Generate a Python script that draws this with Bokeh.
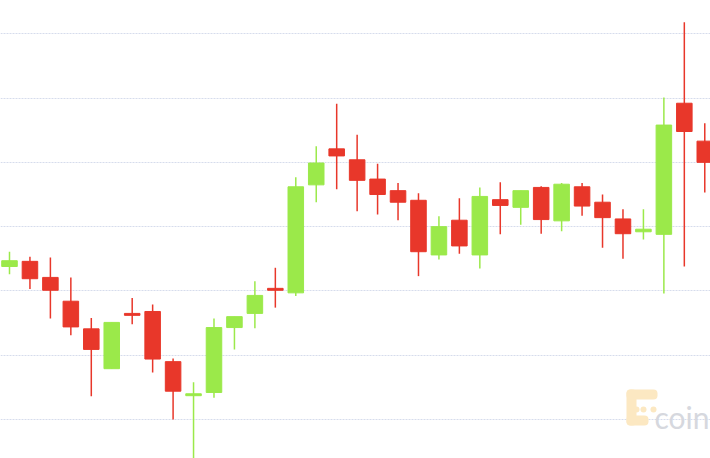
from bokeh.plotting import figure
from bokeh.models import Range1d, FixedTicker, Label, BoxAnnotation
from bokeh.embed import file_html
from bokeh.resources import INLINE

# OHLC values (price units), one per period
opens  = [9238, 9246, 9221, 9184, 9141, 9079, 9165, 9168, 9090, 9037,
          9042, 9143, 9165, 9204, 9197, 9365, 9421, 9404, 9374, 9356,
          9341, 9256, 9310, 9256, 9342, 9330, 9361, 9309, 9362, 9338,
          9312, 9292, 9288, 9492, 9433]
highs  = [9261, 9253, 9252, 9221, 9158, 9151, 9189, 9179, 9095, 9058,
          9157, 9160, 9215, 9236, 9377, 9425, 9491, 9443, 9398, 9368,
          9352, 9316, 9344, 9361, 9369, 9356, 9363, 9368, 9368, 9350,
          9327, 9327, 9501, 9618, 9461]
lows   = [9226, 9203, 9157, 9131, 9036, 9079, 9148, 9073, 9000, 8935,
          9034, 9109, 9142, 9174, 9192, 9338, 9358, 9324, 9319, 9310,
          9223, 9249, 9258, 9235, 9288, 9303, 9289, 9293, 9317, 9267,
          9250, 9280, 9196, 9238, 9353]
closes = [9247, 9219, 9201, 9144, 9109, 9151, 9162, 9094, 9044, 9040,
          9143, 9160, 9193, 9201, 9362, 9399, 9410, 9372, 9350, 9338,
          9261, 9300, 9270, 9347, 9333, 9356, 9311, 9366, 9332, 9314,
          9289, 9296, 9458, 9448, 9400]
grid_ticks = [9000, 9100, 9200, 9300, 9400, 9500, 9600]

UP, DOWN = "#9be94a", "#e8372a"
idx = list(range(len(opens)))
colors = [UP if c >= o else DOWN for o, c in zip(opens, closes)]
tops = [max(o, c) for o, c in zip(opens, closes)]
bottoms = [min(o, c) for o, c in zip(opens, closes)]

p = figure(width=710, height=458, output_backend="svg", toolbar_location=None,
           x_range=Range1d(-0.44, 34.28), y_range=Range1d(8939.3, 9651.8),
           min_border=0, min_border_left=0, min_border_right=0,
           min_border_top=0, min_border_bottom=0)
p.outline_line_color = None
p.background_fill_color = "white"
p.border_fill_color = "white"
p.xaxis.visible = False
p.yaxis.visible = False
p.xgrid.visible = False
p.ygrid.ticker = FixedTicker(ticks=grid_ticks)
p.ygrid.grid_line_color = "#d6dcec"
p.ygrid.grid_line_dash = "2 1"
p.ygrid.grid_line_width = 1

# watermark (screen units, y measured from the bottom)
logo_color = "#fce8c2"
for l, r, t, b in [(626, 657, 69, 59), (626, 636, 69, 33), (626, 648, 43, 33),
                   (633, 639, 52, 46), (640, 646, 52, 46), (650, 656, 52, 46)]:
    p.add_layout(BoxAnnotation(left=l, right=r, top=t, bottom=b,
                               left_units="screen", right_units="screen",
                               top_units="screen", bottom_units="screen",
                               fill_color=logo_color, fill_alpha=1.0,
                               line_color=None, border_radius=4, level="underlay"))
p.add_layout(Label(x=709, y=42, x_units="screen", y_units="screen", text="coin",
                   text_font_size="30px", text_color="#d6d8de", text_font="Lato",
                   text_align="right", text_baseline="alphabetic", level="underlay"))

p.segment(idx, highs, idx, lows, line_color=colors, line_width=1.5)
p.vbar(x=idx, width=0.76, top=tops, bottom=bottoms, fill_color=colors,
       line_color=colors, line_width=1)

open("out.html", "w").write(file_html(p, INLINE))
